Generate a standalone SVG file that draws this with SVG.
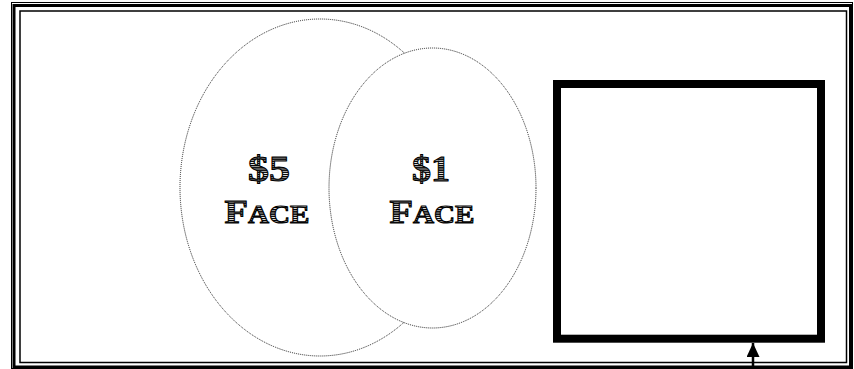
<svg xmlns="http://www.w3.org/2000/svg" width="854" height="369" viewBox="0 0 854 369">
  <defs>
    <pattern id="hatch" width="4" height="2.2" patternUnits="userSpaceOnUse">
      <rect width="4" height="2.2" fill="#ffffff"/>
      <rect width="4" height="1.4" fill="#000000"/>
    </pattern>
    <marker id="arrow" viewBox="0 0 14 13" refX="14" refY="6.5" markerWidth="14" markerHeight="13" markerUnits="userSpaceOnUse" orient="auto">
      <path d="M0,0 L14,6.5 L0,13 Z" fill="#000"/>
    </marker>
  </defs>
  <style>
    .frame { fill: none; stroke: #000; }
    .ell { fill: #fff; stroke: #222; stroke-width: 1; stroke-dasharray: 1 1; }
    .lbl { font-family: "Liberation Serif", "DejaVu Serif", serif; font-weight: bold; fill: url(#hatch); stroke: #000; stroke-width: 1; text-anchor: middle; }
    .conn { stroke: #000; stroke-width: 2.5; fill: none; }
  </style>
  <rect width="854" height="369" fill="#fff"/>
  <g id="frame">
    <rect class="frame" x="11.5" y="2.5" width="841" height="366" stroke-width="1" stroke="#444"/>
    <rect class="frame" x="14" y="5.5" width="836.5" height="361.5" stroke-width="3"/>
    <rect class="frame" x="20" y="11" width="826.5" height="351.5" stroke-width="1.5"/>
  </g>
  <g id="face5">
    <ellipse class="ell" cx="320" cy="187.5" rx="140" ry="168.5"/>
    <text class="lbl" x="269" y="181" font-size="36" textLength="42" lengthAdjust="spacingAndGlyphs">$5</text>
    <text class="lbl" x="267" y="222.5" font-size="33" textLength="85" lengthAdjust="spacingAndGlyphs">F<tspan font-size="25">ACE</tspan></text>
  </g>
  <g id="face1">
    <ellipse class="ell" cx="432.5" cy="188" rx="103.5" ry="140"/>
    <text class="lbl" x="431" y="181" font-size="36" textLength="38" lengthAdjust="spacingAndGlyphs">$1</text>
    <text class="lbl" x="432" y="222.5" font-size="33" textLength="85" lengthAdjust="spacingAndGlyphs">F<tspan font-size="25">ACE</tspan></text>
  </g>
  <g id="box">
    <rect x="557" y="84" width="264" height="254.7" fill="#fff" stroke="#000" stroke-width="8"/>
  </g>
  <g id="connectors">
    <line class="conn" x1="753" y1="369" x2="753" y2="343" marker-end="url(#arrow)"/>
  </g>
</svg>
